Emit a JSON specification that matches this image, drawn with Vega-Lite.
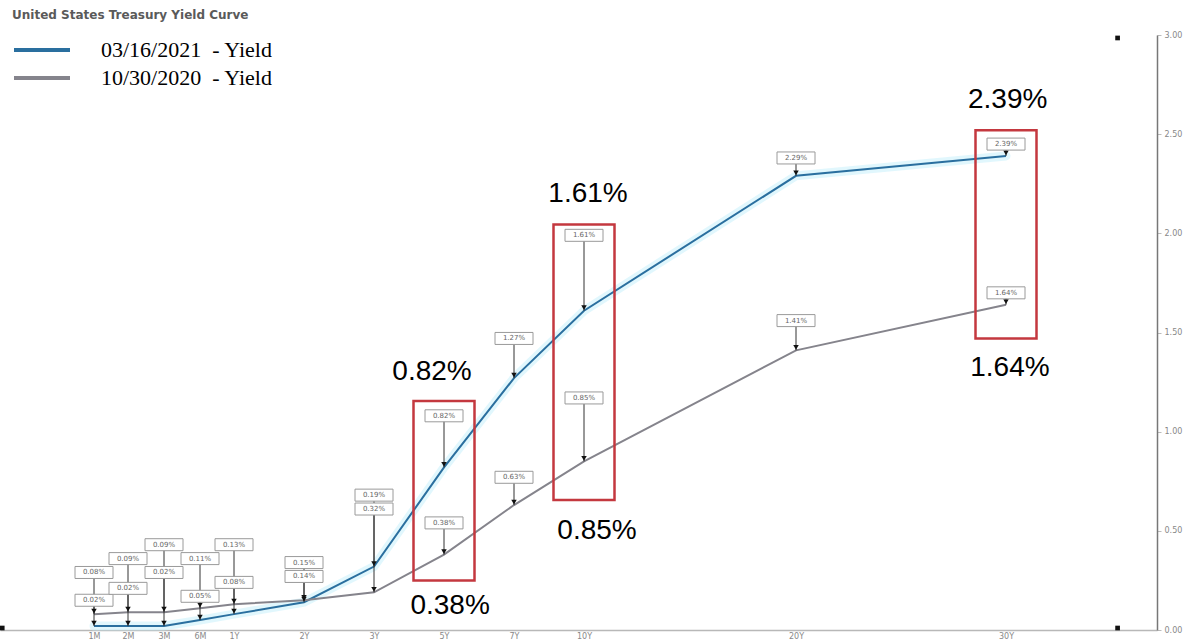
{
  "$schema": "https://vega.github.io/schema/vega-lite/v6.json",
  "width": 1157,
  "height": 595,
  "autosize": "none",
  "padding": {"left": 0, "top": 35, "right": 32, "bottom": 9},
  "background": "white",
  "title": {
    "text": "United States Treasury Yield Curve",
    "anchor": "start",
    "frame": "group",
    "orient": "top",
    "baseline": "alphabetic",
    "offset": 0,
    "dx": 12,
    "font": "DejaVu Sans",
    "fontSize": 12,
    "fontWeight": "bold",
    "color": "#5a5a5a"
  },
  "config": {
    "view": {"stroke": null},
    "axis": {"grid": false, "title": null}
  },
  "datasets": {
    "curve": [
      {"tenor": "1M", "months": 1, "series": "03/16/2021", "yield": 0.02, "boxAt": 0.15},
      {"tenor": "2M", "months": 2, "series": "03/16/2021", "yield": 0.02, "boxAt": 0.21},
      {"tenor": "3M", "months": 3, "series": "03/16/2021", "yield": 0.02, "boxAt": 0.29},
      {"tenor": "6M", "months": 6, "series": "03/16/2021", "yield": 0.05, "boxAt": 0.17},
      {"tenor": "1Y", "months": 12, "series": "03/16/2021", "yield": 0.08, "boxAt": 0.24},
      {"tenor": "2Y", "months": 24, "series": "03/16/2021", "yield": 0.14, "boxAt": 0.27},
      {"tenor": "3Y", "months": 36, "series": "03/16/2021", "yield": 0.32, "boxAt": 0.61},
      {"tenor": "5Y", "months": 60, "series": "03/16/2021", "yield": 0.82, "boxAt": 1.08, "calloutAt": 1.30, "calloutX": 55.9},
      {"tenor": "7Y", "months": 84, "series": "03/16/2021", "yield": 1.27, "boxAt": 1.47},
      {"tenor": "10Y", "months": 120, "series": "03/16/2021", "yield": 1.61, "boxAt": 1.99, "calloutAt": 2.20, "calloutX": 122.3},
      {"tenor": "20Y", "months": 240, "series": "03/16/2021", "yield": 2.29, "boxAt": 2.38},
      {"tenor": "30Y", "months": 360, "series": "03/16/2021", "yield": 2.39, "boxAt": 2.45, "calloutAt": 2.67, "calloutX": 361},
      {"tenor": "1M", "months": 1, "series": "10/30/2020", "yield": 0.08, "boxAt": 0.29},
      {"tenor": "2M", "months": 2, "series": "10/30/2020", "yield": 0.09, "boxAt": 0.36},
      {"tenor": "3M", "months": 3, "series": "10/30/2020", "yield": 0.09, "boxAt": 0.43},
      {"tenor": "6M", "months": 6, "series": "10/30/2020", "yield": 0.11, "boxAt": 0.36},
      {"tenor": "1Y", "months": 12, "series": "10/30/2020", "yield": 0.13, "boxAt": 0.43},
      {"tenor": "2Y", "months": 24, "series": "10/30/2020", "yield": 0.15, "boxAt": 0.34},
      {"tenor": "3Y", "months": 36, "series": "10/30/2020", "yield": 0.19, "boxAt": 0.68},
      {"tenor": "5Y", "months": 60, "series": "10/30/2020", "yield": 0.38, "boxAt": 0.54, "calloutAt": 0.12, "calloutX": 62.1},
      {"tenor": "7Y", "months": 84, "series": "10/30/2020", "yield": 0.63, "boxAt": 0.77},
      {"tenor": "10Y", "months": 120, "series": "10/30/2020", "yield": 0.85, "boxAt": 1.17, "calloutAt": 0.50, "calloutX": 127.4},
      {"tenor": "20Y", "months": 240, "series": "10/30/2020", "yield": 1.41, "boxAt": 1.56},
      {"tenor": "30Y", "months": 360, "series": "10/30/2020", "yield": 1.64, "boxAt": 1.70, "calloutAt": 1.32, "calloutX": 362.3}
    ],
    "highlights": [
      {"months": 60, "lo": 0.25, "hi": 1.155},
      {"months": 120, "lo": 0.655, "hi": 2.045},
      {"months": 360, "lo": 1.47, "hi": 2.52}
    ],
    "handles": [
      {"months": 425, "at": 2.985},
      {"months": 425, "at": 0.01},
      {"months": -3.6, "at": 0.01}
    ]
  },
  "data": {"name": "curve"},
  "transform": [
    {"calculate": "format(datum.yield, '.2f') + '%'", "as": "label"}
  ],
  "encoding": {
    "x": {
      "field": "months",
      "type": "quantitative",
      "scale": {
        "domain": [-1.76, 1, 2, 3, 6, 12, 24, 36, 60, 84, 120, 240, 360, 446],
        "range": [0, 94, 128, 164, 200, 234, 304, 374, 444, 514, 584, 796, 1006, 1157],
        "nice": false,
        "zero": false
      },
      "axis": {
        "orient": "bottom",
        "values": [1, 2, 3, 6, 12, 24, 36, 60, 84, 120, 240, 360],
        "labelExpr": "datum.value < 12 ? datum.value + 'M' : (datum.value / 12) + 'Y'",
        "domainColor": "#b8b8b8",
        "domainWidth": 1.5,
        "ticks": false,
        "labelPadding": 2,
        "labelFont": "DejaVu Sans",
        "labelFontSize": 8,
        "labelColor": "#888888",
        "labelBaseline": "top"
      }
    },
    "y": {
      "field": "yield",
      "type": "quantitative",
      "scale": {"domain": [0, 3], "nice": false, "zero": true},
      "axis": {
        "orient": "right",
        "values": [0, 0.5, 1, 1.5, 2, 2.5, 3],
        "format": ".2f",
        "domainColor": "#777777",
        "domainWidth": 1.5,
        "tickColor": "#bbbbbb",
        "tickSize": 4,
        "labelPadding": 3,
        "labelFont": "DejaVu Sans",
        "labelFontSize": 8,
        "labelColor": "#888888"
      }
    }
  },
  "layer": [
    {
      "transform": [{"filter": "datum.series === '03/16/2021'"}],
      "mark": {"type": "line", "color": "#c9f1fb", "strokeWidth": 9, "opacity": 0.55, "strokeCap": "round"},
      "encoding": {}
    },
    {
      "mark": {"type": "line", "strokeWidth": 2},
      "encoding": {
        "color": {
          "field": "series",
          "type": "nominal",
          "scale": {"domain": ["03/16/2021", "10/30/2020"], "range": ["#2a6f9f", "#85848c"]},
          "legend": {
            "orient": "none",
            "legendX": 26,
            "legendY": -1,
            "title": null,
            "symbolType": "M-2,0H2",
            "symbolSize": 784,
            "symbolStrokeWidth": 4,
            "labelExpr": "datum.label + '\u00a0\u00a0- Yield'",
            "labelLimit": 400,
            "labelFont": "Liberation Serif",
            "labelFontSize": 22,
            "labelColor": "#000000",
            "labelOffset": 43,
            "rowPadding": 1
          }
        }
      }
    },
    {
      "mark": {"type": "rule", "color": "#333333", "strokeWidth": 1},
      "encoding": {
        "y": {"field": "boxAt", "type": "quantitative"},
        "y2": {"field": "yield"}
      }
    },
    {
      "mark": {"type": "point", "shape": "triangle-down", "filled": true, "color": "#111111", "size": 30, "opacity": 1, "yOffset": -3},
      "encoding": {}
    },
    {
      "mark": {"type": "bar", "width": 38, "fill": "white", "stroke": "#9a9a9a", "strokeWidth": 1, "yOffset": 6, "y2Offset": -6},
      "encoding": {
        "y": {"field": "boxAt", "type": "quantitative"},
        "y2": {"field": "boxAt"}
      }
    },
    {
      "mark": {"type": "text", "font": "DejaVu Sans", "fontSize": 7, "color": "#666666", "baseline": "middle", "align": "center"},
      "encoding": {
        "y": {"field": "boxAt", "type": "quantitative"},
        "text": {"field": "label"}
      }
    },
    {
      "data": {"name": "highlights"},
      "mark": {"type": "bar", "width": 61, "fill": null, "fillOpacity": 0, "stroke": "#c4383f", "strokeWidth": 2.5},
      "encoding": {
        "y": {"field": "lo", "type": "quantitative"},
        "y2": {"field": "hi"}
      }
    },
    {
      "transform": [{"filter": "isValid(datum.calloutAt)"}],
      "mark": {"type": "bar", "width": 112, "fill": "white", "yOffset": 21, "y2Offset": -21},
      "encoding": {
        "x": {"field": "calloutX", "type": "quantitative"},
        "y": {"field": "calloutAt", "type": "quantitative"},
        "y2": {"field": "calloutAt"}
      }
    },
    {
      "transform": [{"filter": "isValid(datum.calloutAt)"}],
      "mark": {"type": "text", "font": "Liberation Sans", "fontSize": 28, "color": "#000000", "baseline": "middle", "align": "center"},
      "encoding": {
        "x": {"field": "calloutX", "type": "quantitative"},
        "y": {"field": "calloutAt", "type": "quantitative"},
        "text": {"field": "label"}
      }
    },
    {
      "data": {"name": "handles"},
      "mark": {"type": "point", "shape": "square", "filled": true, "color": "#111111", "size": 22, "opacity": 1},
      "encoding": {
        "y": {"field": "at", "type": "quantitative"}
      }
    }
  ]
}
